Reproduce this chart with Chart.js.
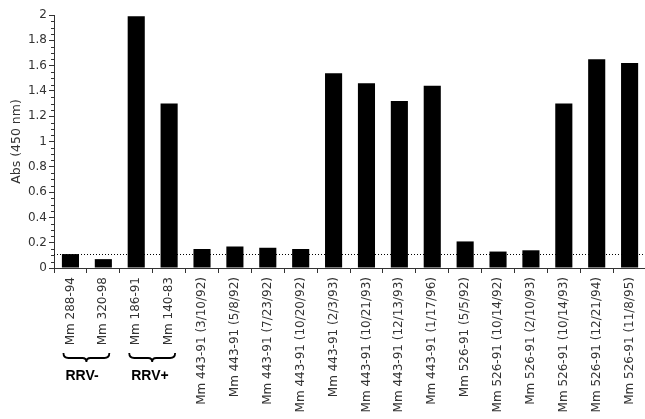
<!DOCTYPE html>
<html>
<head>
<meta charset="utf-8">
<script src="https://cdn.jsdelivr.net/npm/chart.js@4/dist/chart.umd.min.js"></script>
<style>
  html, body { margin: 0; padding: 0; background: #fff; overflow: hidden; }
  #wrap { width: 645px; height: 419px; overflow: hidden; }
</style>
</head>
<body>
<div id="wrap"><canvas id="chart" width="648" height="419"></canvas></div>
<script>
// sample names, one bar each
const categories = [
    'Mm 288-94', 'Mm 320-98', 'Mm 186-91', 'Mm 140-83',
    'Mm 443-91 (3/10/92)', 'Mm 443-91 (5/8/92)', 'Mm 443-91 (7/23/92)', 'Mm 443-91 (10/20/92)',
    'Mm 443-91 (2/3/93)', 'Mm 443-91 (10/21/93)', 'Mm 443-91 (12/13/93)', 'Mm 443-91 (1/17/96)',
    'Mm 526-91 (5/5/92)', 'Mm 526-91 (10/14/92)', 'Mm 526-91 (2/10/93)', 'Mm 526-91 (10/14/93)',
    'Mm 526-91 (12/21/94)', 'Mm 526-91 (11/8/95)'
];

// absorbance at 450 nm
const absValues = [
    0.11, 0.07, 1.99, 1.30,
    0.15, 0.17, 0.16, 0.15,
    1.54, 1.46, 1.32, 1.44,
    0.21, 0.13, 0.14, 1.30,
    1.65, 1.62
];

const cutoff = 0.11;
const yTicks = [0, 0.2, 0.4, 0.6, 0.8, 1, 1.2, 1.4, 1.6, 1.8, 2];
const minorStep = 0.05;

// control groups marked with a brace under the labels
const groupFrom = ['Mm 288-94', 'Mm 186-91'];
const groupTo = ['Mm 320-98', 'Mm 140-83'];
const groupNames = ['RRV-', 'RRV+'];

// ============================================
// PLUGINS
// ============================================

const extrasPlugin = {
    id: 'extras',
    afterDatasetsDraw(chart) {
        const { ctx, chartArea, scales } = chart;
        const y = scales.y;
        const x = scales.x;

        // dotted cutoff line
        ctx.save();
        ctx.strokeStyle = '#000';
        ctx.lineWidth = 1;
        ctx.setLineDash([1, 2]);
        const cy = Math.round(y.getPixelForValue(cutoff)) + 0.5;
        ctx.beginPath();
        ctx.moveTo(chartArea.left, cy);
        ctx.lineTo(chartArea.right, cy);
        ctx.stroke();
        ctx.restore();

        // minor ticks on the y axis
        ctx.save();
        ctx.strokeStyle = '#333';
        ctx.lineWidth = 1;
        for (let v = 0; v <= 2.0001; v += minorStep) {
            const isMajor = Math.abs(v * 5 - Math.round(v * 5)) < 1e-6;
            if (isMajor) continue;
            const py = Math.round(y.getPixelForValue(v)) + 0.5;
            ctx.beginPath();
            ctx.moveTo(chartArea.left - 3, py);
            ctx.lineTo(chartArea.left, py);
            ctx.stroke();
        }
        ctx.restore();

        // braces and group names
        ctx.save();
        ctx.strokeStyle = '#000';
        ctx.fillStyle = '#000';
        ctx.lineWidth = 1.8;
        const by = chartArea.bottom + 90;
        groupNames.forEach((name, i) => {
            const x1 = x.getPixelForValue(categories.indexOf(groupFrom[i])) - 7;
            const x2 = x.getPixelForValue(categories.indexOf(groupTo[i])) + 6;
            const mid = (x1 + x2) / 2;
            ctx.beginPath();
            ctx.moveTo(x1, by - 5);
            ctx.quadraticCurveTo(x1, by, x1 + 5, by);
            ctx.lineTo(mid - 4, by);
            ctx.quadraticCurveTo(mid, by, mid, by + 4);
            ctx.quadraticCurveTo(mid, by, mid + 4, by);
            ctx.lineTo(x2 - 5, by);
            ctx.quadraticCurveTo(x2, by, x2, by - 5);
            ctx.stroke();

            ctx.font = 'bold 14px "Liberation Sans", Arial, sans-serif';
            ctx.textAlign = 'left';
            ctx.textBaseline = 'top';
            ctx.fillText(name, x1 + 2, by + 11);
        });
        ctx.restore();
    }
};

// ============================================
// CHART
// ============================================

new Chart(document.getElementById('chart'), {
    type: 'bar',
    data: {
        labels: categories,
        datasets: [{
            data: absValues,
            backgroundColor: '#000',
            borderWidth: 0,
            barPercentage: 0.52,
            categoryPercentage: 1
        }]
    },
    options: {
        responsive: false,
        animation: false,
        layout: { padding: { top: 15, right: 0, left: 0, bottom: 0 } },
        plugins: {
            legend: { display: false },
            tooltip: { enabled: false }
        },
        scales: {
            x: {
                offset: true,
                afterFit: (scale) => { scale.height = 151; },
                grid: {
                    offset: true,
                    drawOnChartArea: false,
                    tickLength: 5,
                    color: '#333'
                },
                border: { color: '#333', width: 1 },
                ticks: {
                    autoSkip: false,
                    minRotation: 90,
                    maxRotation: 90,
                    padding: 4,
                    color: '#333',
                    font: { family: '"DejaVu Sans", sans-serif', size: 12 }
                }
            },
            y: {
                min: 0,
                max: 2,
                afterFit: (scale) => { scale.width = 54; },
                afterBuildTicks: (scale) => {
                    scale.ticks = yTicks.map(v => ({ value: v }));
                },
                grid: {
                    drawOnChartArea: false,
                    tickLength: 5,
                    color: '#333'
                },
                border: { color: '#333', width: 1 },
                ticks: {
                    padding: 2,
                    color: '#333',
                    font: { family: '"DejaVu Sans", sans-serif', size: 12 },
                    callback: (v) => String(Math.round(v * 10) / 10)
                },
                title: {
                    display: true,
                    text: 'Abs (450 nm)',
                    color: '#333',
                    padding: { top: 9, bottom: 0 },
                    font: { family: '"DejaVu Sans", sans-serif', size: 12.5 }
                }
            }
        }
    },
    plugins: [extrasPlugin]
});
</script>
</body>
</html>
